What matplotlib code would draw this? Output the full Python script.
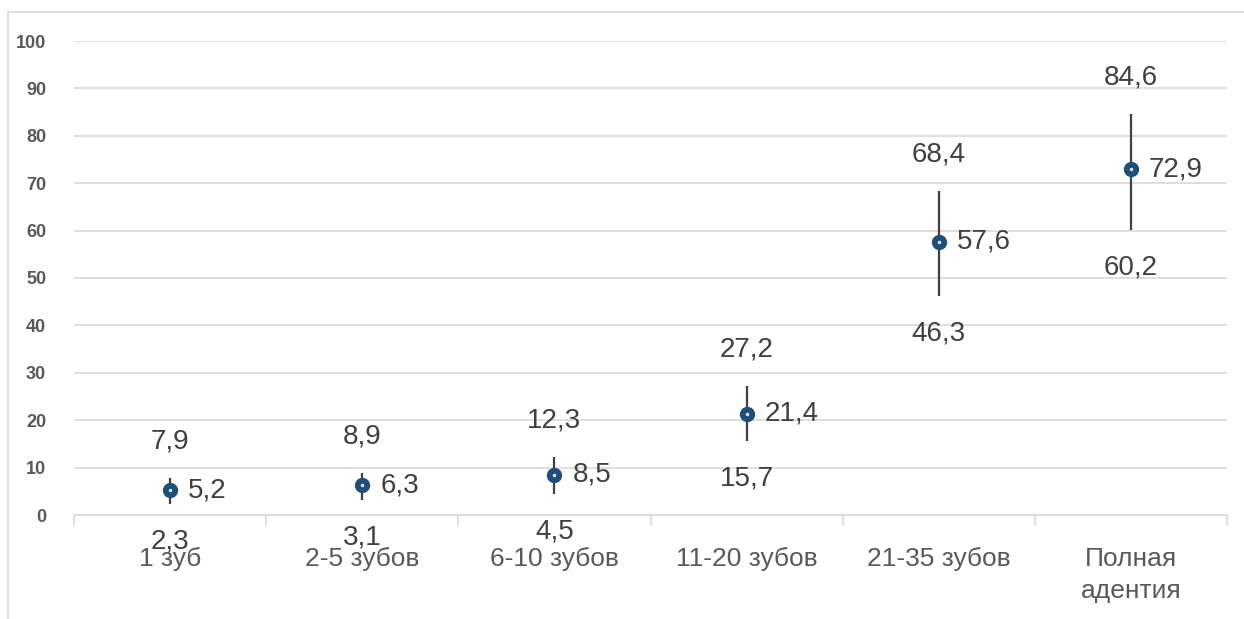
import numpy as np
import matplotlib
matplotlib.use('Agg')
import matplotlib.pyplot as plt
from matplotlib import font_manager

# данные
categories = ['1 зуб', '2-5 зубов', '6-10 зубов', '11-20 зубов', '21-35 зубов', 'Полная\nадентия']
mean_vals = [5.2, 6.3, 8.5, 21.4, 57.6, 72.9]
low_vals = [2.3, 3.1, 4.5, 15.7, 46.3, 60.2]
high_vals = [7.9, 8.9, 12.3, 27.2, 68.4, 84.6]
yticks = [0, 10, 20, 30, 40, 50, 60, 70, 80, 90, 100]

names = {f.name for f in font_manager.fontManager.ttflist}
font = 'Liberation Sans Narrow' if 'Liberation Sans Narrow' in names else 'Liberation Sans'
plt.rcParams['font.family'] = [font, 'DejaVu Sans']

fig = plt.figure(figsize=(12.44, 6.19), dpi=100)
ax = fig.add_axes([74/1244, 104/619, (1227-74)/1244, (515-41)/619])

x = np.arange(len(categories))
mean_vals = np.array(mean_vals)
low_vals = np.array(low_vals)
high_vals = np.array(high_vals)

ax.vlines(x, low_vals, high_vals, color='#404040', lw=1.6, zorder=3)
ax.plot(x, mean_vals, 'o', ms=10, color='#1F4E79', zorder=4, ls='none')
ax.plot(x, mean_vals, 'o', ms=1.5, color='#DDE6F0', zorder=5, ls='none')

lab_col = '#404040'
for i in range(len(x)):
    ax.annotate(f'{high_vals[i]:.1f}'.replace('.', ','), (x[i], high_vals[i]),
                xytext=(0, 26), textcoords='offset points', ha='center', va='center',
                fontsize=20, color=lab_col)
    ax.annotate(f'{low_vals[i]:.1f}'.replace('.', ','), (x[i], low_vals[i]),
                xytext=(0, -27), textcoords='offset points', ha='center', va='center',
                fontsize=20, color=lab_col)
    ax.annotate(f'{mean_vals[i]:.1f}'.replace('.', ','), (x[i], mean_vals[i]),
                xytext=(13, 0), textcoords='offset points', ha='left', va='center',
                fontsize=20, color=lab_col)

ax.set_xlim(-0.5, len(x) - 0.5)
ax.set_ylim(0, 100)
ax.set_yticks(yticks)
ax.set_yticklabels([str(v) for v in yticks], fontsize=13, fontweight='bold', color='#595959')
ax.yaxis.grid(True, color='#D9D9D9', lw=1.2)
ax.set_axisbelow(True)
ax.tick_params(axis='y', length=0, pad=20)

ax.set_xticks(x)
ax.set_xticklabels(categories, fontsize=19, color='#595959', linespacing=1.45)
ax.set_xticks(np.arange(-0.5, len(x)), minor=True)
ax.tick_params(axis='x', which='major', length=0, pad=23)
ax.tick_params(axis='x', which='minor', length=8, color='#D9D9D9', width=1.2)

for s in ['top', 'right', 'left']:
    ax.spines[s].set_visible(False)
ax.spines['bottom'].set_color('#D9D9D9')
ax.spines['bottom'].set_linewidth(1.2)

# рамка
fig.add_artist(plt.Line2D([8/1244, 8/1244], [0, 1 - 12/619], transform=fig.transFigure, color='#D9D9D9', lw=1.2))
fig.add_artist(plt.Line2D([8/1244, 1], [1 - 12/619, 1 - 12/619], transform=fig.transFigure, color='#D9D9D9', lw=1.2))

fig.savefig('out.png', dpi=100)
